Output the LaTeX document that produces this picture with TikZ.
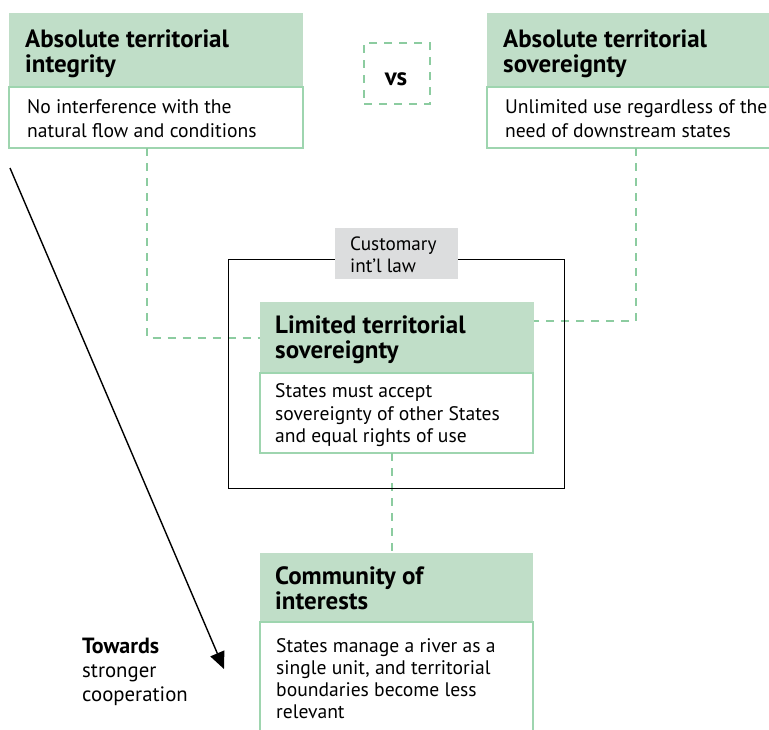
\documentclass[tikz,border=0pt]{standalone}
\usepackage{fontspec}
\setmainfont{PT Sans}
\usetikzlibrary{arrows.meta}
\definecolor{hdrgreen}{RGB}{192,222,200}
\definecolor{brdgreen}{RGB}{158,213,175}
\definecolor{dashgreen}{RGB}{140,204,160}
\definecolor{labelgrey}{RGB}{220,221,222}
\begin{document}
\begin{tikzpicture}[x=1pt,y=-1pt,
  hdr/.style={fill=hdrgreen, draw=none, inner sep=0pt, outer sep=0pt, anchor=north west},
  bodybox/.style={fill=white, draw=brdgreen, line width=1.6pt, inner sep=0pt, outer sep=0pt, anchor=north west},
  htext/.style={anchor=base west, font=\fontsize{25}{26}\selectfont\bfseries, inner sep=0pt},
  btext/.style={anchor=base west, font=\fontsize{19.6}{22}\selectfont, inner sep=0pt},
  dashconn/.style={draw=dashgreen, line width=2pt, dash pattern=on 8pt off 7pt},
]
\clip (0,0) rectangle (769,729);
% top-left box
\node[hdr, minimum width=294pt, minimum height=74pt] (h1) at (9,13) {};
\node[bodybox, minimum width=294pt, minimum height=61pt] (b1) at (9,87) {};
\node[htext] (t1a) at (25,47) {Absolute territorial};
\node[htext] (t1b) at (25,72) {integrity};
\node[btext] (t1c) at (27,113) {No interference with the};
\node[btext] (t1d) at (27,137) {natural flow and conditions};
% top-right box
\node[hdr, minimum width=320pt, minimum height=74pt] (h2) at (487,13) {};
\node[bodybox, minimum width=320pt, minimum height=61pt] (b2) at (487,87) {};
\node[htext] (t2a) at (503,47) {Absolute territorial};
\node[htext] (t2b) at (503,72) {sovereignty};
\node[btext] (t2c) at (505,113) {Unlimited use regardless of the};
\node[btext] (t2d) at (505,137) {need of downstream states};
% vs
\node[draw=dashgreen, line width=2pt, dash pattern=on 8pt off 7pt, minimum width=66pt, minimum height=61pt, inner sep=0pt, anchor=north west] (vs) at (363,42) {};
\node[anchor=base, font=\fontsize{25}{26}\selectfont\bfseries, inner sep=0pt] (vst) at (396,85) {vs};
% limited
\node[hdr, minimum width=274pt, minimum height=71pt] (h3) at (260,302) {};
\node[bodybox, minimum width=273pt, minimum height=80pt] (b3) at (260,373) {};
\node[htext] (t3a) at (275,333) {Limited territorial};
\node[htext] (t3b) at (275,358) {sovereignty};
\node[btext] (t3c) at (275,397) {States must accept};
\node[btext] (t3d) at (275,420) {sovereignty of other States};
\node[btext] (t3e) at (275,442) {and equal rights of use};
% community
\node[hdr, minimum width=273pt, minimum height=69pt] (h4) at (260,553) {};
\node[bodybox, minimum width=273pt, minimum height=140pt] (b4) at (260,622) {};
\node[htext] (t4a) at (275,584) {Community of};
\node[htext] (t4b) at (275,609) {interests};
\node[btext] (t4c) at (276,652) {States manage a river as a};
\node[btext] (t4d) at (276,674) {single unit, and territorial};
\node[btext] (t4e) at (276,696) {boundaries become less};
\node[btext] (t4f) at (276,718) {relevant};
% connectors
\coordinate (cx1) at (147,0);
\coordinate (cx2) at (636,0);
\coordinate (cy2) at (0,321);
\coordinate (cx3) at (392,0);
\draw[dashconn] (b1.south -| cx1) |- (h3.west);
\draw[dashconn] (b2.south -| cx2) |- (h3.east |- cy2);
\draw[dashconn] (b3.south -| cx3) -- (h4.north -| cx3);
% customary frame
\node[draw=black, line width=1.3pt, minimum width=336pt, minimum height=229pt, inner sep=0pt, anchor=north west] (cil) at (228,259) {};
\node[fill=labelgrey, minimum width=123pt, minimum height=51pt, inner sep=0pt, anchor=north west] (lab) at (335,228) {};
\node[btext, font=\fontsize{19.2}{20}\selectfont] (labt1) at (350,250) {Customary};
\node[btext, font=\fontsize{19.2}{20}\selectfont] (labt2) at (350,272) {int’l law};
% arrow
\coordinate (as) at (10,168);
\coordinate (ae) at (224,669);
\draw[line width=1.4pt, -{Triangle[length=17pt,width=15pt]}] (as) -- (ae);
\node[btext, font=\fontsize{22}{22}\selectfont\bfseries] (tw1) at (82,653) {Towards};
\node[btext, font=\fontsize{20.8}{22}\selectfont] (tw2) at (82,677) {stronger};
\node[btext, font=\fontsize{20.8}{22}\selectfont] (tw3) at (82,701) {cooperation};
\end{tikzpicture}
\end{document}
